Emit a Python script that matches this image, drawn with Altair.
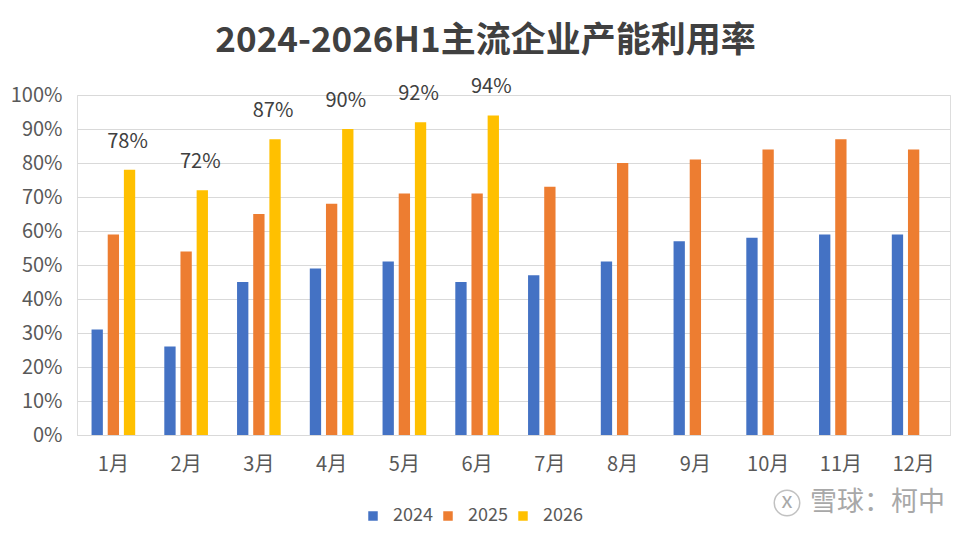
import altair as alt
import pandas as pd

months = ["1月", "2月", "3月", "4月", "5月", "6月", "7月", "8月", "9月", "10月", "11月", "12月"]
years = ["2024", "2025", "2026"]
v2024 = [31, 26, 45, 49, 51, 45, 47, 51, 57, 58, 59, 59]
v2025 = [59, 54, 65, 68, 71, 71, 73, 80, 81, 84, 87, 84]
v2026 = [78, 72, 87, 90, 92, 94]
colors = ["#4472C4", "#ED7D31", "#FFC000"]

rows = []
for series, yr in zip([v2024, v2025, v2026], years):
    for m, v in zip(months, series):
        rows.append({"month": m, "year": yr, "value": v})
df = pd.DataFrame(rows)

FONT = "Noto Sans CJK SC"

x = alt.X("month:N", sort=months, title=None,
          scale=alt.Scale(paddingInner=0.4, paddingOuter=0.2),
          axis=alt.Axis(labelAngle=0, labelFontSize=20, labelColor="#595959",
                        labelFont=FONT, labelPadding=19, ticks=False,
                        domainColor="#D9D9D9", domainWidth=1))
xo = alt.XOffset("year:N", sort=years, scale=alt.Scale(paddingInner=0.3, paddingOuter=0))
y = alt.Y("value:Q", title=None,
          scale=alt.Scale(domain=[0, 100]),
          axis=alt.Axis(values=list(range(0, 101, 10)), labelExpr="datum.value + '%'",
                        labelFontSize=20, labelColor="#595959", labelFont=FONT,
                        labelPadding=15, ticks=False, domain=False, labelOverlap=False,
                        gridColor="#D9D9D9", gridWidth=1))

bars = alt.Chart(df).mark_bar().encode(
    x=x,
    xOffset=xo,
    y=y,
    color=alt.Color("year:N", sort=years,
                    scale=alt.Scale(domain=years, range=colors),
                    legend=alt.Legend(title=None, orient="none", direction="horizontal",
                                      legendX=287, legendY=412, symbolType="square",
                                      symbolSize=90, symbolStrokeWidth=0,
                                      labelFontSize=18, labelColor="#595959",
                                      labelFont=FONT, columnPadding=6, labelOffset=11)),
)

labels = alt.Chart(df[df["year"] == "2026"]).transform_calculate(
    label="datum.value + '%'"
).mark_text(baseline="bottom", dy=-18, fontSize=20, color="#404040", font=FONT, dx=-2).encode(
    x=x,
    xOffset=xo,
    y=y,
    text="label:N",
)

wm = alt.Chart(pd.DataFrame({"t": ["雪球：柯中"]})).mark_text(
    align="right", baseline="middle", fontSize=27, color="#A8A8A8", font=FONT
).encode(x=alt.value(868), y=alt.value(408), text="t:N")

icon = alt.Chart(pd.DataFrame({"t": ["x"]})).mark_point(
    shape="circle", size=650, filled=False, color="#A8A8A8", strokeWidth=1.5
).encode(x=alt.value(710), y=alt.value(408))

icon_x = alt.Chart(pd.DataFrame({"t": ["x"]})).mark_text(
    align="center", baseline="middle", fontSize=22, color="#A8A8A8", font=FONT
).encode(x=alt.value(710), y=alt.value(406), text="t:N")

chart = alt.layer(bars, labels, wm, icon, icon_x).properties(
    width=873, height=340,
    padding={"left": 69, "top": 87, "right": 16, "bottom": 91},
    autosize=alt.AutoSizeParams(type="none"),
    title=alt.TitleParams("2024-2026H1主流企业产能利用率", fontSize=35, fontWeight="bold",
                          font=FONT, color="#404040", anchor="middle", dx=-28, offset=18),
).configure_view(stroke="transparent", strokeWidth=0).configure(background="white")

chart.save("out.html", embed_options={"renderer": "svg", "actions": False})
